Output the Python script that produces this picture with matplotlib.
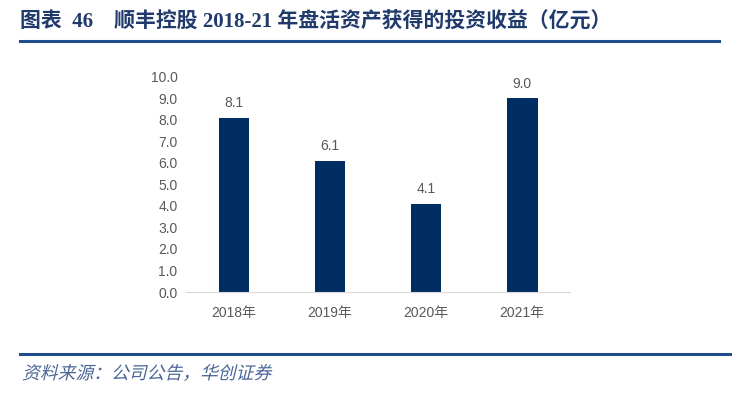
import matplotlib.pyplot as plt
import numpy as np
from matplotlib.textpath import TextPath
from matplotlib.patches import PathPatch
from matplotlib.font_manager import FontProperties
from matplotlib.transforms import Affine2D, IdentityTransform

plt.rcParams['font.family'] = ['Liberation Sans', 'Noto Sans CJK SC', 'DejaVu Sans']

years = ['2018年', '2019年', '2020年', '2021年']
income = [8.1, 6.1, 4.1, 9.0]
yticks = np.arange(0, 10.5, 1.0)

bar_color = '#002D62'
text_gray = '#595959'
title_blue = '#1F3A6B'

fig = plt.figure(figsize=(7.32, 3.99), dpi=100)
ax = fig.add_axes([0.254, 0.268, 0.525, 0.54])

x = np.arange(len(years))
ax.bar(x, income, width=0.32, color=bar_color)
for xi, v in zip(x, income):
    ax.text(xi, v + 0.35, f'{v:.1f}', ha='center', va='bottom', fontsize=10, color=text_gray)

ax.set_xlim(-0.5, len(years) - 0.5)
ax.set_ylim(0, 10)
ax.set_yticks(yticks)
ax.set_yticklabels([f'{t:.1f}' for t in yticks], fontsize=10, color=text_gray)
ax.set_xticks(x)
ax.set_xticklabels(years, fontsize=10, color=text_gray)
ax.tick_params(length=0, pad=6)
ax.tick_params(axis='x', pad=10)
for s in ['top', 'right', 'left']:
    ax.spines[s].set_visible(False)
ax.spines['bottom'].set_color('#D9D9D9')

fig.text(0.027, 0.945, '图表  46    顺丰控股 2018-21 年盘活资产获得的投资收益（亿元）',
         fontsize=15, fontweight='bold', color=title_blue, va='center',
         family=['Liberation Serif', 'Noto Sans CJK SC'])
fig.add_artist(plt.Line2D([0.027, 0.982], [0.898, 0.898], color='#1F4E8C', lw=2.2))
fig.add_artist(plt.Line2D([0.027, 1.0], [0.113, 0.113], color='#1F4E8C', lw=2.2))

# italic source line: CJK font has no italic, so skew the glyph outlines
src = TextPath((0, 0), '资料来源：公司公告，华创证券', size=17.8,
               prop=FontProperties(family='Noto Sans CJK SC', weight='light'))
tr = Affine2D().skew_deg(14, 0).translate(22, 399 - 379) + IdentityTransform()
fig.add_artist(PathPatch(src, transform=tr, facecolor='#4A6696', lw=0))

fig.savefig('out.png', dpi=100)
